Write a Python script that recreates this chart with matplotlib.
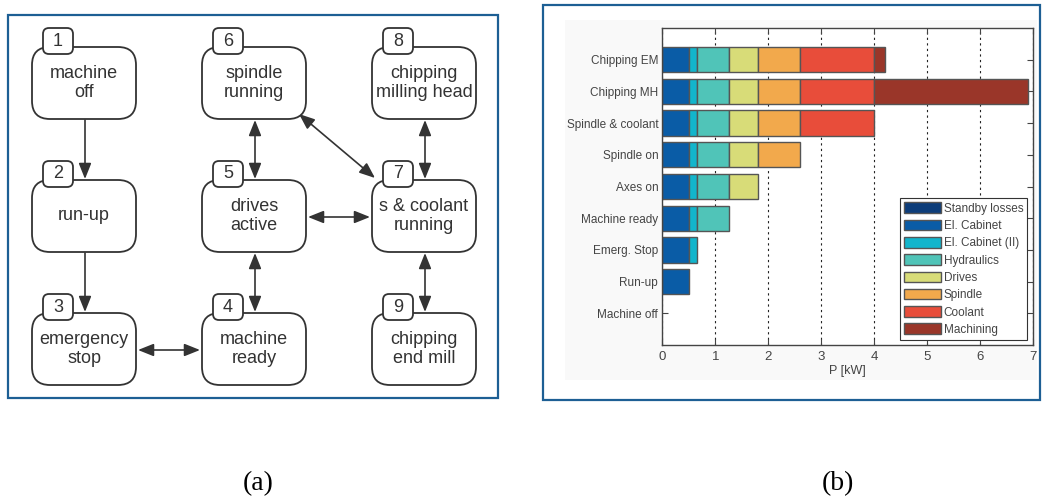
import numpy as np
import matplotlib.pyplot as plt
from matplotlib.patches import FancyBboxPatch, Rectangle, Patch

plt.rcParams['font.family'] = ['Liberation Sans', 'DejaVu Sans']

# operating states, bottom row first
states = ['Machine off', 'Run-up', 'Emerg. Stop', 'Machine ready', 'Axes on',
          'Spindle on', 'Spindle & coolant', 'Chipping MH', 'Chipping EM']

# power per consumer in kW
standby = [0, 0, 0, 0, 0, 0, 0, 0, 0]
el_cabinet = [0, 0.5, 0.5, 0.5, 0.5, 0.5, 0.5, 0.5, 0.5]
el_cabinet2 = [0, 0, 0.15, 0.15, 0.15, 0.15, 0.15, 0.15, 0.15]
hydraulics = [0, 0, 0, 0.6, 0.6, 0.6, 0.6, 0.6, 0.6]
drives = [0, 0, 0, 0, 0.56, 0.56, 0.56, 0.56, 0.56]
spindle = [0, 0, 0, 0, 0, 0.78, 0.78, 0.78, 0.78]
coolant = [0, 0, 0, 0, 0, 0, 1.41, 1.41, 1.41]
machining = [0, 0, 0, 0, 0, 0, 0, 2.9, 0.2]

consumers = ['Standby losses', 'El. Cabinet', 'El. Cabinet (II)', 'Hydraulics',
             'Drives', 'Spindle', 'Coolant', 'Machining']
colors = ['#0d3d7a', '#0a5ca6', '#12b5cc', '#50c4b8',
          '#d8dc78', '#f2a94c', '#e84d3a', '#9a3629']
xticks = [0, 1, 2, 3, 4, 5, 6, 7]

# state diagram nodes: number, label, column, row
nodes = [(1, 'machine\noff', 0, 0), (2, 'run-up', 0, 1), (3, 'emergency\nstop', 0, 2),
         (4, 'machine\nready', 1, 2), (5, 'drives\nactive', 1, 1), (6, 'spindle\nrunning', 1, 0),
         (7, 's & coolant\nrunning', 2, 1), (8, 'chipping\nmilling head', 2, 0),
         (9, 'chipping\nend mill', 2, 2)]
# transitions: start node, end node, two-way?
links = [(1, 2, False), (2, 3, False), (3, 4, True), (4, 5, True), (5, 6, True),
         (5, 7, True), (6, 7, True), (8, 7, True), (7, 9, True)]

fig = plt.figure(figsize=(10.44, 5.0), dpi=100)

# pixel-space canvas for the diagram and the frames
ax0 = fig.add_axes([0, 0, 1, 1])
ax0.set_xlim(0, 1044)
ax0.set_ylim(500, 0)
ax0.axis('off')

frame_col = '#1d5f94'
ax0.add_patch(Rectangle((8, 15), 490, 383, fill=False, ec=frame_col, lw=1.6))
ax0.add_patch(Rectangle((565, 20), 472, 360, fc='#f9f9f9', ec='none'))
ax0.add_patch(Rectangle((543, 5), 497, 395, fill=False, ec=frame_col, lw=1.6))

col_x = [32, 202, 372]
row_y = [47, 180, 313]
bw, bh = 104, 72
line_col = '#333333'
centers = {}
for num, label, c, r in nodes:
    x0, y0 = col_x[c], row_y[r]
    ax0.add_patch(FancyBboxPatch((x0, y0), bw, bh, boxstyle='round,pad=0,rounding_size=18',
                                 fc='white', ec=line_col, lw=1.3, zorder=2))
    ax0.add_patch(FancyBboxPatch((x0 + 11, y0 - 19), 30, 26, boxstyle='round,pad=0,rounding_size=6',
                                 fc='white', ec=line_col, lw=1.3, zorder=3))
    ax0.text(x0 + 26, y0 - 6, str(num), ha='center', va='center', fontsize=13,
             color=line_col, zorder=4)
    ax0.text(x0 + bw / 2, y0 + bh / 2, label, ha='center', va='center', fontsize=13,
             color=line_col, linespacing=1.2, zorder=4)
    centers[num] = (x0, y0)


def edge_point(n, toward):
    # point on box n's border facing box 'toward'
    x0, y0 = centers[n]
    tx, ty = centers[toward]
    cx, cy = x0 + bw / 2, y0 + bh / 2
    if tx == x0:
        return (cx + 1, y0 + bh + 1) if ty > y0 else (cx + 1, y0 - 1)
    if ty == y0:
        return (x0 + bw + 2, cy + 28) if tx > x0 else (x0 - 2, cy + 28)
    return (x0 + bw - 7, y0 + bh - 5) if tx > x0 else (x0 + 3, y0 - 2)


for a, b, both in links:
    pa = edge_point(a, b)
    pb = edge_point(b, a)
    if centers[a][1] == centers[b][1]:
        pa = (pa[0], centers[a][1] + bh / 2 + 1)
        pb = (pb[0], pa[1])
    style = '<|-|>,head_length=0.5,head_width=0.2' if both else '-|>,head_length=0.5,head_width=0.2'
    ax0.annotate('', xy=pb, xytext=pa,
                 arrowprops=dict(arrowstyle=style, color=line_col, lw=1.2,
                                 shrinkA=0, shrinkB=0, mutation_scale=19), zorder=1)

ax0.text(258, 484, '(a)', ha='center', va='center', fontsize=20,
         family='Liberation Serif')
ax0.text(838, 484, '(b)', ha='center', va='center', fontsize=20,
         family='Liberation Serif')

# stacked bar chart of power per state
ax = fig.add_axes([662.3 / 1044, 1 - 345 / 500, 371 / 1044, 317 / 500])
ypos = np.arange(1, len(states) + 1)
series = [standby, el_cabinet, el_cabinet2, hydraulics, drives, spindle, coolant, machining]
left = np.zeros(len(states))
for vals, col in zip(series, colors):
    vals = np.array(vals, dtype=float)
    keep = vals > 0
    ax.barh(ypos[keep], vals[keep], left=left[keep], height=0.8, color=col,
            edgecolor='#555555', linewidth=1.0, zorder=2)
    left += vals

ax.set_xlim(0, 7)
ax.set_ylim(0, len(states) + 1)
ax.set_xticks(xticks)
ax.set_yticks(ypos)
ax.set_yticklabels(states)
ax.tick_params(direction='in', length=4, width=0.8, top=True, right=True,
               labelcolor='#444444', color='#444444')
ax.tick_params(axis='y', labelsize=8.5, pad=3)
ax.tick_params(axis='x', labelsize=9.5, pad=4)
ax.set_xlabel('P [kW]', fontsize=9, color='#444444', labelpad=2)
ax.set_axisbelow(True)
ax.grid(axis='x', color='#222222', linestyle=(0, (2, 3)), linewidth=0.8)
for sp in ax.spines.values():
    sp.set_color('#444444')
    sp.set_linewidth(1.0)

handles = [Patch(facecolor=c, edgecolor='#555555', linewidth=1.0) for c in colors]
leg = ax.legend(handles, consumers, loc='lower right', bbox_to_anchor=(0.984, 0.016),
                borderaxespad=0, fontsize=8.5, frameon=True, fancybox=False,
                framealpha=1, edgecolor='#333333', handlelength=3.1, handleheight=1.0,
                handletextpad=0.25, labelspacing=0.42, borderpad=0.35)
leg.get_frame().set_linewidth(0.8)
for t in leg.get_texts():
    t.set_color('#444444')

fig.savefig('out.png', dpi=100)
